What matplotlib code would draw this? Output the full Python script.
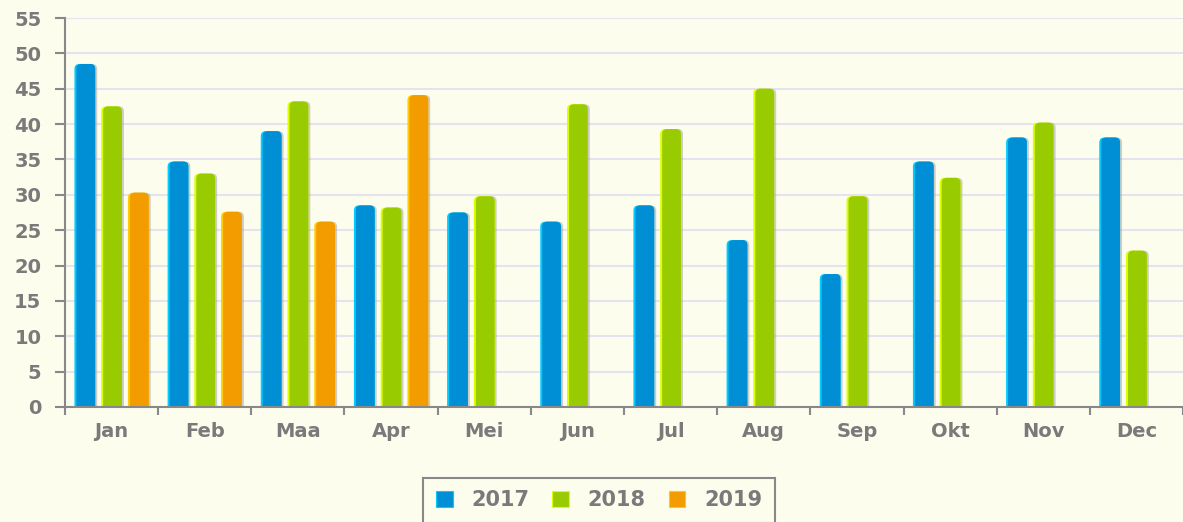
import numpy as np
import matplotlib
matplotlib.use("Agg")
import matplotlib.pyplot as plt
from matplotlib.patches import FancyBboxPatch, Patch
from matplotlib.transforms import offset_copy

months = ['Jan', 'Feb', 'Maa', 'Apr', 'Mei', 'Jun', 'Jul', 'Aug', 'Sep', 'Okt', 'Nov', 'Dec']
years = ['2017', '2018', '2019']
v2017 = [48.5, 34.7, 39.0, 28.5, 27.5, 26.2, 28.5, 23.6, 18.8, 34.7, 38.1, 38.1]
v2018 = [42.5, 33.0, 43.2, 28.2, 29.8, 42.8, 39.3, 45.0, 29.8, 32.4, 40.2, 22.1]
v2019 = [30.3, 27.6, 26.2, 44.1]

colors = ['#008fd5', '#99cc00', '#f39c00']
light = ['#00ccff', '#ddff00', '#ffcc00']
bg = '#fdfdee'
txt = '#7a7a7a'

W, H = 1183, 522
fig = plt.figure(figsize=(W / 100, H / 100), dpi=100, facecolor=bg)
ax = fig.add_axes([65 / W, 1 - 407 / H, (W - 65) / W, (407 - 18) / H], facecolor=bg)

# pixel scale: 94 px per category, 389 px for 55 units
px_x = 1 / 94.0
px_y = 55 / 389.0
aspect = px_y / px_x

bw = 21 * px_x
step = 27 * px_x
r = 5 * px_x
shadow_tr = offset_copy(ax.transData, fig=fig, x=2, y=0, units='dots')

series = [v2017, v2018, v2019]
for i, vals in enumerate(series):
    xs = np.arange(len(vals)) + (i - 1) * step
    for x, v in zip(xs, vals):
        left = x - bw / 2
        # shadow
        ax.add_patch(FancyBboxPatch((left, -2), bw, v + 2,
                                    boxstyle=f"round,pad=0,rounding_size={r}",
                                    mutation_aspect=aspect, fc='#a0a0a0', ec='none',
                                    alpha=0.5, transform=shadow_tr, zorder=2))
        # highlight on the left
        ax.add_patch(FancyBboxPatch((left, -2), bw, v + 2,
                                    boxstyle=f"round,pad=0,rounding_size={r}",
                                    mutation_aspect=aspect, fc=light[i], ec='none', zorder=3))
        ax.add_patch(FancyBboxPatch((left + 2 * px_x, -2), bw - 2 * px_x, v + 2,
                                    boxstyle=f"round,pad=0,rounding_size={r}",
                                    mutation_aspect=aspect, fc=colors[i], ec='none', zorder=4))

ax.set_xlim(-0.5, 11.5 - 9 * px_x)
ax.set_ylim(0, 55)
ax.set_yticks(np.arange(0, 56, 5))
ax.set_xticks(np.arange(12))
ax.set_xticklabels(months)
ax.set_xticks(np.arange(-0.5, 12, 1), minor=True)
ax.grid(axis='y', color='#e4e4ee', linewidth=1.5, zorder=0)
ax.set_axisbelow(True)

for s in ['top', 'right']:
    ax.spines[s].set_visible(False)
for s in ['left', 'bottom']:
    ax.spines[s].set_color('#888888')
    ax.spines[s].set_linewidth(1.5)
    ax.spines[s].set_zorder(5)

ax.tick_params(axis='y', length=7, width=1.5, color='#888888', pad=10,
               labelsize=14, labelcolor=txt)
ax.tick_params(axis='x', which='major', length=0, pad=11, labelsize=14, labelcolor=txt)
ax.tick_params(axis='x', which='minor', length=6, width=1.5, color='#888888')
for lab in ax.get_xticklabels() + ax.get_yticklabels():
    lab.set_fontweight('bold')

handles = [Patch(facecolor=c, edgecolor=l, linewidth=0.8) for c, l in zip(colors, light)]
leg = fig.legend(handles, years, loc='upper center', bbox_to_anchor=(599 / W, 1 - 478 / H),
                 ncol=3, frameon=True, fancybox=False, edgecolor='#888888', facecolor=bg,
                 prop={'weight': 'bold', 'size': 15}, labelcolor=txt,
                 handlelength=0.8, handleheight=0.8, handletextpad=0.9, columnspacing=1.1,
                 borderpad=0.6, borderaxespad=0, framealpha=1)
leg.get_frame().set_linewidth(1.5)

fig.savefig('out.png', dpi=100, facecolor=bg)
